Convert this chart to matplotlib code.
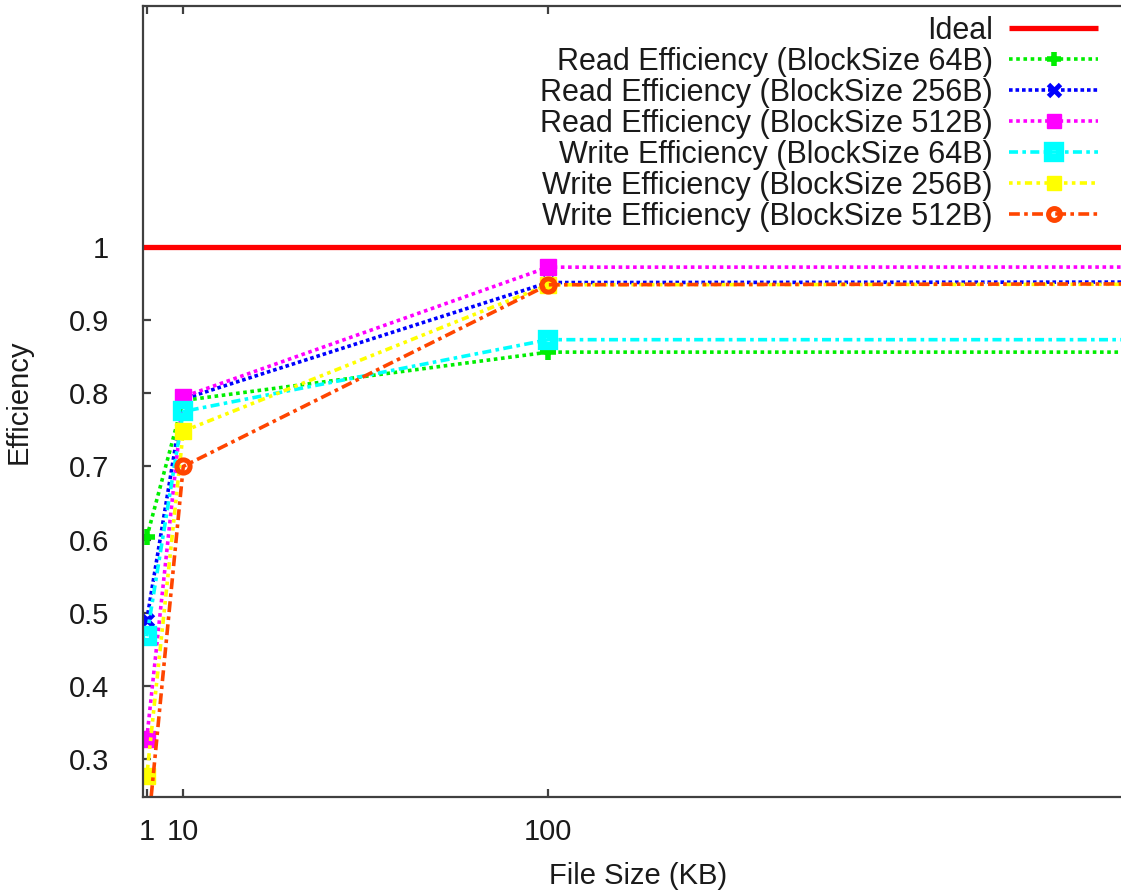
import matplotlib
matplotlib.use("Agg")
import matplotlib.pyplot as plt

plt.rcParams['font.family'] = ['Liberation Sans', 'DejaVu Sans']

file_sizes = [1, 10, 100, 1000]
ideal_value = 1.0
read_64 = [0.603, 0.790, 0.856, 0.856]
read_256 = [0.490, 0.792, 0.951, 0.955]
read_512 = [0.328, 0.795, 0.972, 0.973]
write_64 = [0.468, 0.775, 0.873, 0.873]
write_256 = [0.277, 0.748, 0.948, 0.952]
write_512 = [0.187, 0.700, 0.948, 0.955]

labels = ["Ideal",
          "Read Efficiency (BlockSize 64B)",
          "Read Efficiency (BlockSize 256B)",
          "Read Efficiency (BlockSize 512B)",
          "Write Efficiency (BlockSize 64B)",
          "Write Efficiency (BlockSize 256B)",
          "Write Efficiency (BlockSize 512B)"]

x_ticks = [1, 10, 100]
y_ticks = [0.3, 0.4, 0.5, 0.6, 0.7, 0.8, 0.9, 1.0]
y_tick_labels = ["0.3", "0.4", "0.5", "0.6", "0.7", "0.8", "0.9", "1"]

W, H = 1121, 890
fig = plt.figure(figsize=(W / 100, H / 100), dpi=100)
left, right, bottom, top = 142.7, 1133, 797, 5.7
ax = fig.add_axes([left / W, 1 - bottom / H, (right - left) / W, (bottom - top) / H])

lw = 2.6
ax.axhline(ideal_value, color='#ff0000', lw=3.8, solid_capstyle='butt', label=labels[0])
ax.plot(file_sizes, read_64, color='#00ee00', lw=lw, ls=(0, (1, 1)), marker='+', ms=11, mew=4,
        label=labels[1])
ax.plot(file_sizes, read_256, color='#0000ff', lw=lw, ls=(0, (1, 0.8)), marker='x', ms=9, mew=3.5,
        label=labels[2])
ax.plot(file_sizes, read_512, color='#ff00ff', lw=lw, ls=(0, (1, 1)), marker='s', ms=11,
        mec='#ff00ff', label=labels[3])
ax.plot(file_sizes, write_64, color='#00ffff', lw=lw, ls=(0, (2.5, 1.2, 1, 1.2)), marker='s', ms=9,
        mew=6, mfc='none', mec='#00ffff', label=labels[4])
ax.plot(file_sizes, write_256, color='#ffff00', lw=lw, ls=(0, (1, 1.2, 1, 1.2, 2, 1.2)), marker='s',
        ms=11, mec='#ffff00', label=labels[5])
ax.plot(file_sizes, write_512, color='#ff4500', lw=lw, ls=(0, (3, 1.2, 1, 1.2)), marker='o', ms=9.5,
        mew=3.6, mfc='none', mec='#ff4500', label=labels[6])

ax.set_xlim(0, (right - left) / 4.056)
ax.set_ylim(0.2486, 1.329)
ax.set_xticks(x_ticks)
ax.set_xticklabels([str(v) for v in x_ticks])
ax.set_yticks(y_ticks)
ax.set_yticklabels(y_tick_labels)

spine_c = '#404040'
for s in ['left', 'bottom', 'top']:
    ax.spines[s].set_color(spine_c)
    ax.spines[s].set_linewidth(1.6)
ax.spines['right'].set_visible(False)
ax.tick_params(axis='both', direction='in', length=6, width=1.6, color=spine_c,
               labelsize=21, labelcolor='#1a1a1a', top=True)
ax.tick_params(axis='x', pad=15)
ax.tick_params(axis='y', pad=24)

ax.set_xlabel("File Size (KB)", fontsize=21, color='#1a1a1a', labelpad=12)
ax.set_ylabel("Efficiency", fontsize=21, color='#1a1a1a', labelpad=26)

leg = ax.legend(loc='upper right', bbox_to_anchor=(1098 / W, 1 - 16 / H),
                bbox_transform=fig.transFigure, frameon=False, markerfirst=False,
                fontsize=22, labelspacing=0.03, handlelength=2.9, handletextpad=0.55,
                borderpad=0, borderaxespad=0, numpoints=1, markerscale=0.9)
for t in leg.get_texts():
    t.set_color('#1a1a1a')

fig.savefig("out.png", dpi=100)
